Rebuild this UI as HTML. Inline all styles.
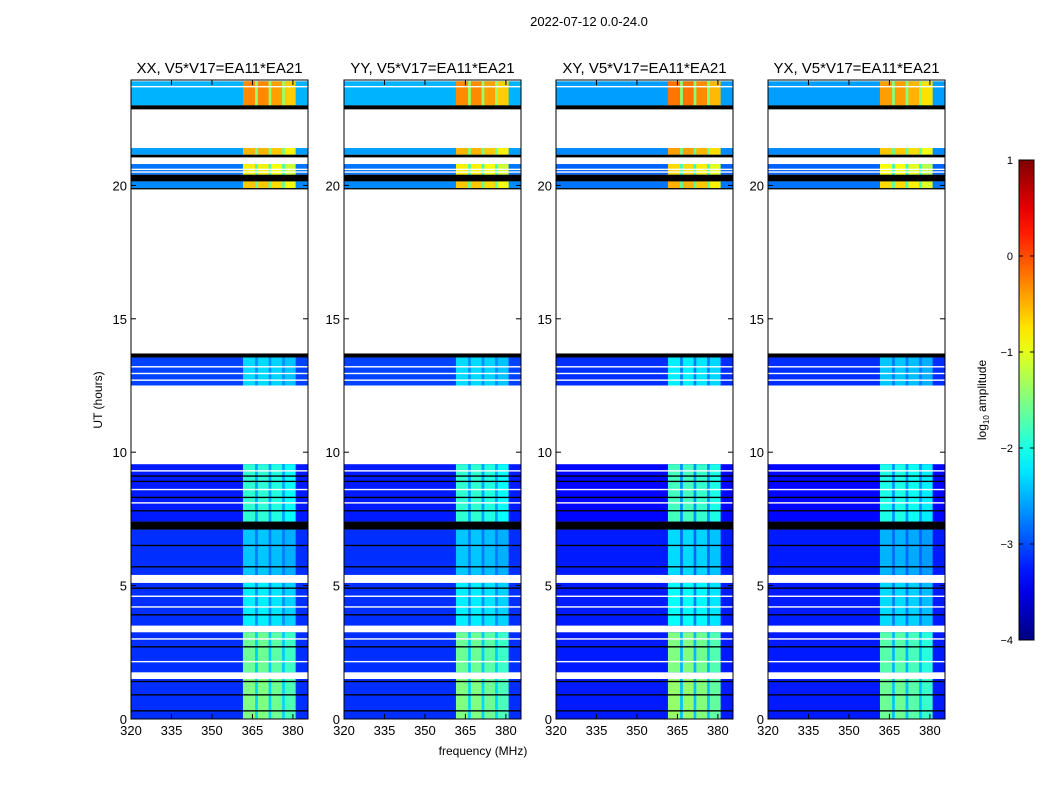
<!DOCTYPE html>
<html><head><meta charset="utf-8">
<style>
body{margin:0;background:#fff;font-family:"Liberation Sans",sans-serif;}
#fig{position:relative;width:1050px;height:800px;overflow:hidden;background:#fff;}
</style></head>
<body>
<div id="fig">
<svg id="svg" width="1050" height="800" xmlns="http://www.w3.org/2000/svg"></svg>
</div>
<script>
// ---- data ----
const panelTitles = ["XX, V5*V17=EA11*EA21","YY, V5*V17=EA11*EA21","XY, V5*V17=EA11*EA21","YX, V5*V17=EA11*EA21"];
const panelBgOffset = [0, 0, -0.1, -0.1];
const panelBandOffset = [0, 0, 0.1, -0.1];
// time blocks: start hour, end hour
const blockStart = [0, 1.75, 3.5, 5.4, 7.4, 12.5, 19.9, 20.4, 21.15, 23.0];
const blockEnd   = [1.5, 3.25, 5.1, 7.1, 9.55, 13.55, 20.15, 20.8, 21.4, 23.9];
const blockBg    = [-3.15, -3.15, -3.15, -3.15, -3.25, -3.05, -2.7, -2.8, -2.6, -2.5];
const blockBand  = [-1.5, -1.6, -2.2, -2.4, -1.9, -2.3, -0.6, -0.8, -0.5, -0.3];
// bright frequency bands (MHz)
const bandLo = [361.5, 367, 372, 377];
const bandHi = [366, 371, 376, 381];
const bandScale = [1.0, 1.0, 0.95, 0.85];
// flagged (black) time ranges
const blackLo = [22.85, 21.05, 20.15, 19.85, 13.55, 7.1, 0.28, 0.88, 1.38, 2.68, 3.88, 4.88, 5.68, 6.48, 7.78, 8.28, 8.88, 9.08];
const blackHi = [23.0, 21.15, 20.4, 19.9, 13.7, 7.4, 0.33, 0.93, 1.43, 2.73, 3.93, 4.93, 5.73, 6.53, 7.83, 8.33, 8.93, 9.13];
// thin white gaps
const whiteAt = [23.7, 20.6, 20.5, 12.7, 12.95, 13.2, 4.6, 4.2, 2.15, 3.0, 8.1, 8.6, 9.3];
const xTicks = [320, 335, 350, 365, 380];
const yTicks = [0, 5, 10, 15, 20];
const cbTicks = [-4, -3, -2, -1, 0, 1];

// ---- layout ----
const panelLeft = [131, 344, 556, 768];
const PW = 177, PT = 80, PB = 719;
const XMIN = 320, XMAX = 385.6, YMIN = 0, YMAX = 23.95;
const NS = "http://www.w3.org/2000/svg";
const svg = document.getElementById('svg');
function el(tag, attrs, parent){const e=document.createElementNS(NS,tag);for(const k in attrs)e.setAttribute(k,attrs[k]);(parent||svg).appendChild(e);return e;}
function jet(v){ // v in 0..1
  const c=x=>Math.max(0,Math.min(1,x));
  const r=c(1.5-Math.abs(4*v-3)), g=c(1.5-Math.abs(4*v-2)), b=c(1.5-Math.abs(4*v-1));
  return `rgb(${Math.round(r*255)},${Math.round(g*255)},${Math.round(b*255)})`;
}
function lev(l){return jet((l+4)/5);}

el('text',{x:589,y:26,'font-size':13,'text-anchor':'middle',}).textContent="2022-07-12 0.0-24.0";

panelTitles.forEach((t,p)=>{
  const L=panelLeft[p];
  const xs=f=>L+(f-XMIN)/(XMAX-XMIN)*PW;
  const ys=h=>PB-(h-YMIN)/(YMAX-YMIN)*(PB-PT);
  const g=el('g',{});
  
  
  blockStart.forEach((s,i)=>{
    const e=blockEnd[i];
    const y0=ys(e), h=ys(s)-ys(e);
    const bg=el('rect',{x:L,y:y0,width:PW,height:h,fill:lev(blockBg[i]+panelBgOffset[p])},g);
    
    
    const gap=el('rect',{x:xs(bandLo[0]),y:y0,width:xs(bandHi[3])-xs(bandLo[0]),height:h,fill:lev((blockBg[i]+blockBand[i])/2+panelBgOffset[p])},g);
    
    
    bandLo.forEach((lo,k)=>{
      const lv=blockBg[i]+(blockBand[i]-blockBg[i])*bandScale[k]+panelBandOffset[p];
      const r=el('rect',{x:xs(lo),y:y0,width:xs(bandHi[k])-xs(lo),height:h,fill:lev(lv)},g);
      
      
    });
  });
  blackLo.forEach((lo,i)=>{
    const r=el('rect',{x:L,y:ys(blackHi[i]),width:PW,height:Math.max(1.2,ys(lo)-ys(blackHi[i])),fill:'#000'},g);
    
    
  });
  whiteAt.forEach(h=>{
    const r=el('rect',{x:L,y:ys(h)-0.7,width:PW,height:1.4,fill:'#fff'},g);
    
    
  });
  const fr=el('rect',{x:L,y:PT,width:PW,height:PB-PT,fill:'none',stroke:'#000','stroke-width':1},g);
  
  
  xTicks.forEach(v=>{
    const x=xs(v);
    el('line',{x1:x,x2:x,y1:PB,y2:PB-5,stroke:'#000'},g);
    el('line',{x1:x,x2:x,y1:PT,y2:PT+5,stroke:'#000'},g);
    const tx=el('text',{x:x,y:PB+16,'font-size':13,'text-anchor':'middle'},g);
    
    
    tx.textContent=v;
  });
  yTicks.forEach(v=>{
    const y=ys(v);
    el('line',{x1:L,x2:L+5,y1:y,y2:y,stroke:'#000'},g);
    el('line',{x1:L+PW,x2:L+PW-5,y1:y,y2:y,stroke:'#000'},g);
    const tx=el('text',{x:L-4,y:y+5,'font-size':13,'text-anchor':'end'},g);
    
    
    tx.textContent=v;
  });
  const tt=el('text',{x:L+PW/2,y:73,'font-size':15,'text-anchor':'middle'},g);
  
  
  tt.textContent=t;
});

const yl=el('text',{x:0,y:0,'font-size':12,'text-anchor':'middle',transform:'translate(102,400) rotate(-90)'});


yl.textContent="UT (hours)";
const xl=el('text',{x:483,y:755,'font-size':12,'text-anchor':'middle'});


xl.textContent="frequency (MHz)";

// colorbar
const defs=el('defs',{});
const grad=el('linearGradient',{id:'jetg',x1:0,y1:1,x2:0,y2:0},defs);
for(let i=0;i<=20;i++){el('stop',{offset:i/20,'stop-color':jet(i/20)},grad);}
const CBX=1019,CBW=15,CBT=160,CBB=640;
const cb=el('rect',{x:CBX,y:CBT,width:CBW,height:CBB-CBT,fill:'url(#jetg)',stroke:'#000','stroke-width':1});


cbTicks.forEach(v=>{
  const y=CBB-(v+4)/5*(CBB-CBT);
  el('line',{x1:CBX,x2:CBX+4,y1:y,y2:y,stroke:'#000'});
  el('line',{x1:CBX+CBW,x2:CBX+CBW-4,y1:y,y2:y,stroke:'#000'});
  const tx=el('text',{x:1013,y:y+4,'font-size':11,'text-anchor':'end'});
  
  
  tx.textContent=(v<0?'\u2212'+(-v):v);
});
const cl=el('text',{x:0,y:0,'font-size':12,'text-anchor':'middle',transform:'translate(986,400) rotate(-90)'});


cl.innerHTML='log<tspan font-size="8" dy="3">10</tspan><tspan dy="-3"> amplitude</tspan>';
</script>
</body></html>
